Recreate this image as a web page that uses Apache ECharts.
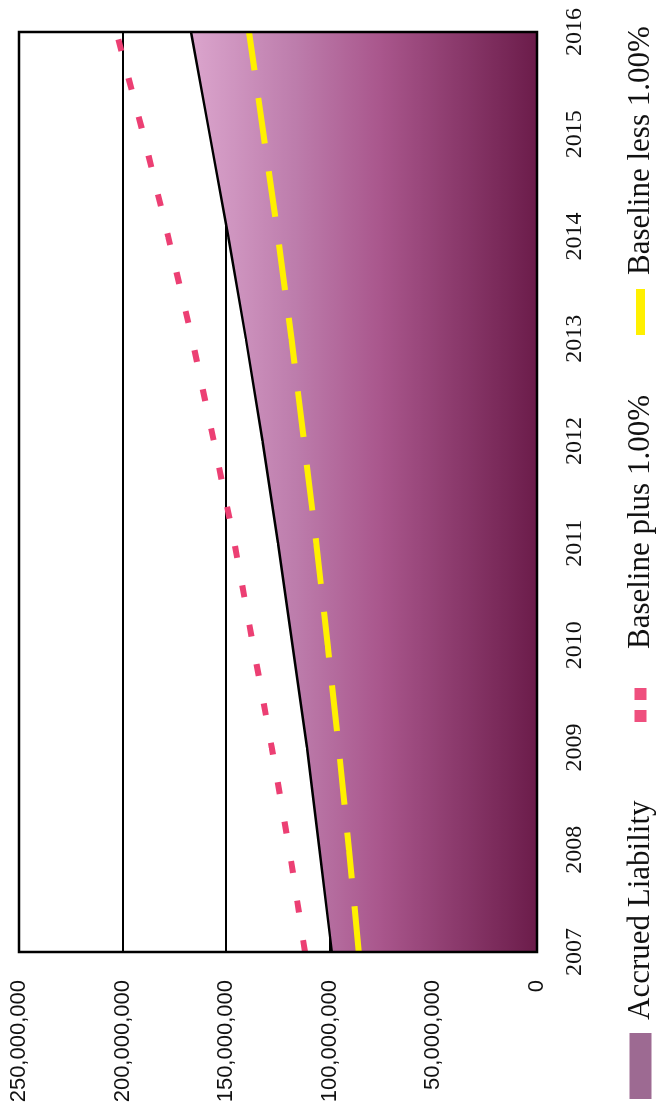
<!DOCTYPE html>
<html>
<head>
<meta charset="utf-8">
<script src="https://cdn.jsdelivr.net/npm/echarts@6/dist/echarts.min.js"></script>
<style>
html,body{margin:0;padding:0;width:658px;height:1115px;overflow:hidden;background:#fff;}
#chart{position:absolute;left:0;top:0;width:1115px;height:658px;transform-origin:0 0;transform:translate(0px,1115px) rotate(-90deg);}
</style>
</head>
<body>
<div id="chart"></div>
<script>
// ---- data ----
const years = ['2007','2008','2009','2010','2011','2012','2013','2014','2015','2016'];
const accruedLiability = [99000000,105000000,111000000,118000000,125000000,132500000,140500000,149000000,158000000,167000000];
const baselinePlus1 = [112000000,119500000,128000000,137000000,146000000,156000000,166500000,178000000,190000000,203000000];
const baselineLess1 = [86000000,90700000,95700000,101000000,106500000,112500000,118500000,125000000,132000000,139000000];
const valueAxisMin = 0;
const valueAxisMax = 250000000;
const valueAxisStep = 50000000;
const seriesNames = ['Accrued Liability','Baseline plus 1.00%','Baseline less 1.00%'];

const chart = echarts.init(document.getElementById('chart'), null, {renderer:'canvas', width:1115, height:658});

function legendText(padLeft){
  return {fontFamily:'Liberation Serif', fontSize:31, color:'#111', padding:[0,0,0,padLeft]};
}

chart.setOption({
  animation:false,
  backgroundColor:'#fff',
  grid:{left:163, right:32, top:19, bottom:121, show:true, zlevel:1,
        borderColor:'#000', borderWidth:2.5, backgroundColor:'transparent',
        outerBoundsMode:'none', containLabel:false},
  legend:[
    {data:[{name:seriesNames[0], icon:'rect', itemStyle:{color:'#9d6a92'}}],
     left:16, top:625, padding:0, itemWidth:66, itemHeight:22, textStyle:legendText(8), selectedMode:false},
    {data:[{name:seriesNames[1], icon:'path://M0,0h12v12h-12z M22,0h12v12h-12z', itemStyle:{color:'#ef4f7e'}}],
     left:393, top:625, padding:0, itemWidth:34, itemHeight:12, textStyle:legendText(34), selectedMode:false},
    {data:[{name:seriesNames[2], icon:'rect', itemStyle:{color:'#fff000'}}],
     left:780, top:625, padding:0, itemWidth:46, itemHeight:9, textStyle:legendText(9), selectedMode:false}
  ],
  xAxis:{
    type:'category', data:years, boundaryGap:false,
    axisLine:{show:false}, axisTick:{show:false}, splitLine:{show:false},
    axisLabel:{interval:0, margin:26, fontFamily:'Liberation Serif', fontSize:24, color:'#111'}
  },
  yAxis:{
    type:'value', min:valueAxisMin, max:valueAxisMax, interval:valueAxisStep,
    axisLine:{show:false}, axisTick:{show:false},
    splitLine:{show:true, lineStyle:{color:'#000', width:2}},
    axisLabel:{margin:28, fontFamily:'Liberation Sans', fontSize:22, color:'#111',
      formatter:function(v){return v.toLocaleString('en-US');}}
  },
  series:[
    {name:seriesNames[0], type:'line', data:accruedLiability, symbol:'none', z:2,
     lineStyle:{color:'#000', width:2.5},
     itemStyle:{color:'#9d6a92'},
     areaStyle:{opacity:1, color:{type:'linear', x:0, y:0, x2:0, y2:1, colorStops:[
       {offset:0, color:'#dba5cd'},
       {offset:0.3, color:'#bd7dac'},
       {offset:0.55, color:'#a9568c'},
       {offset:1, color:'#6b1c4a'}]}}},
    {name:seriesNames[1], type:'line', data:baselinePlus1, symbol:'none', z:3,
     itemStyle:{color:'#ef4f7e'},
     lineStyle:{color:'#ec3f73', width:6, type:[12,28]}},
    {name:seriesNames[2], type:'line', data:baselineLess1, symbol:'none', z:4,
     itemStyle:{color:'#fff000'},
     lineStyle:{color:'#fff000', width:6, type:[46,28]}}
  ]
});
</script>
</body>
</html>
